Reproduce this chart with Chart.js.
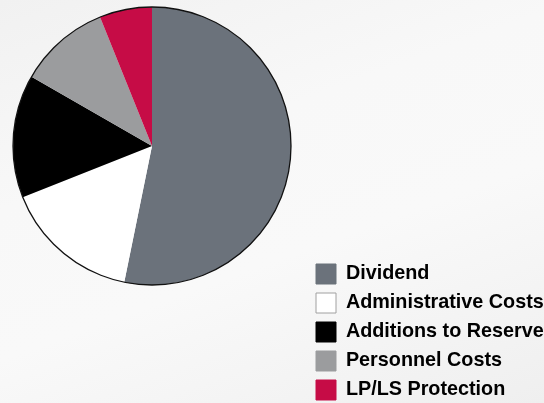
<!DOCTYPE html>
<html>
<head>
<meta charset="utf-8">
<script src="https://cdn.jsdelivr.net/npm/chart.js@4"></script>
<style>
  html, body { margin: 0; padding: 0; }
  body {
    width: 544px; height: 403px; overflow: hidden;
    background: linear-gradient(160deg, #f1f1f1 0%, #f8f8f8 35%, #f9f9f9 60%, #efefef 100%);
  }
  canvas { display: block; }
</style>
</head>
<body>
<canvas id="pieChart" width="544" height="403"></canvas>
<script>
// Chart data
var labels = ["Dividend", "Administrative Costs", "Additions to Reserve", "Personnel Costs", "LP/LS Protection"];
var shares = [53.2, 15.8, 14.3, 10.6, 6.1];
var colors = ["#6b727b", "#ffffff", "#000000", "#9b9c9e", "#c60c46"];

// thin outline round the whole pie (no lines between slices)
var outlinePlugin = {
  id: "outline",
  afterDatasetsDraw: function (chart) {
    var arc = chart.getDatasetMeta(0).data[0];
    if (!arc) return;
    var ctx = chart.ctx;
    ctx.save();
    ctx.beginPath();
    ctx.arc(arc.x, arc.y, arc.outerRadius, 0, Math.PI * 2);
    ctx.lineWidth = 1.3;
    ctx.strokeStyle = "#111111";
    ctx.stroke();
    ctx.restore();
  },
};

// move the legend to the lower right corner
var legendPlacePlugin = {
  id: "legendPlace",
  afterLayout: function (chart) {
    var lg = chart.legend;
    if (!lg) return;
    lg.left = 307;
    lg.top = 255;
    lg.right = 560;
    lg.bottom = 440; // a bit past the canvas so the last row does not wrap
    lg.width = lg.right - lg.left;
    lg.height = lg.bottom - lg.top;
  },
};

var ctx = document.getElementById("pieChart").getContext("2d");

var myChart = new Chart(ctx, {
  type: "pie",
  data: {
    labels: labels,
    datasets: [
      {
        data: shares,
        backgroundColor: colors,
        borderWidth: 0,
      },
    ],
  },
  options: {
    responsive: false,
    animation: false,
    layout: {
      padding: { left: 13, top: 7, right: 253, bottom: 118 },
    },
    plugins: {
      tooltip: { enabled: false },
      legend: {
        display: true,
        position: "chartArea",
        align: "start",
        labels: {
          boxWidth: 20,
          boxHeight: 20,
          padding: 9,
          color: "#000000",
          font: { family: "'Liberation Sans', Arial, sans-serif", size: 19.8, weight: "bold" },
          generateLabels: function (chart) {
            var items = Chart.overrides.pie.plugins.legend.labels.generateLabels(chart);
            items.forEach(function (it) {
              it.lineWidth = 1;
              it.strokeStyle = it.fillStyle === "#ffffff" ? "#a0a0a0" : it.fillStyle;
            });
            return items;
          },
        },
      },
    },
  },
  plugins: [outlinePlugin, legendPlacePlugin],
});
</script>
</body>
</html>
